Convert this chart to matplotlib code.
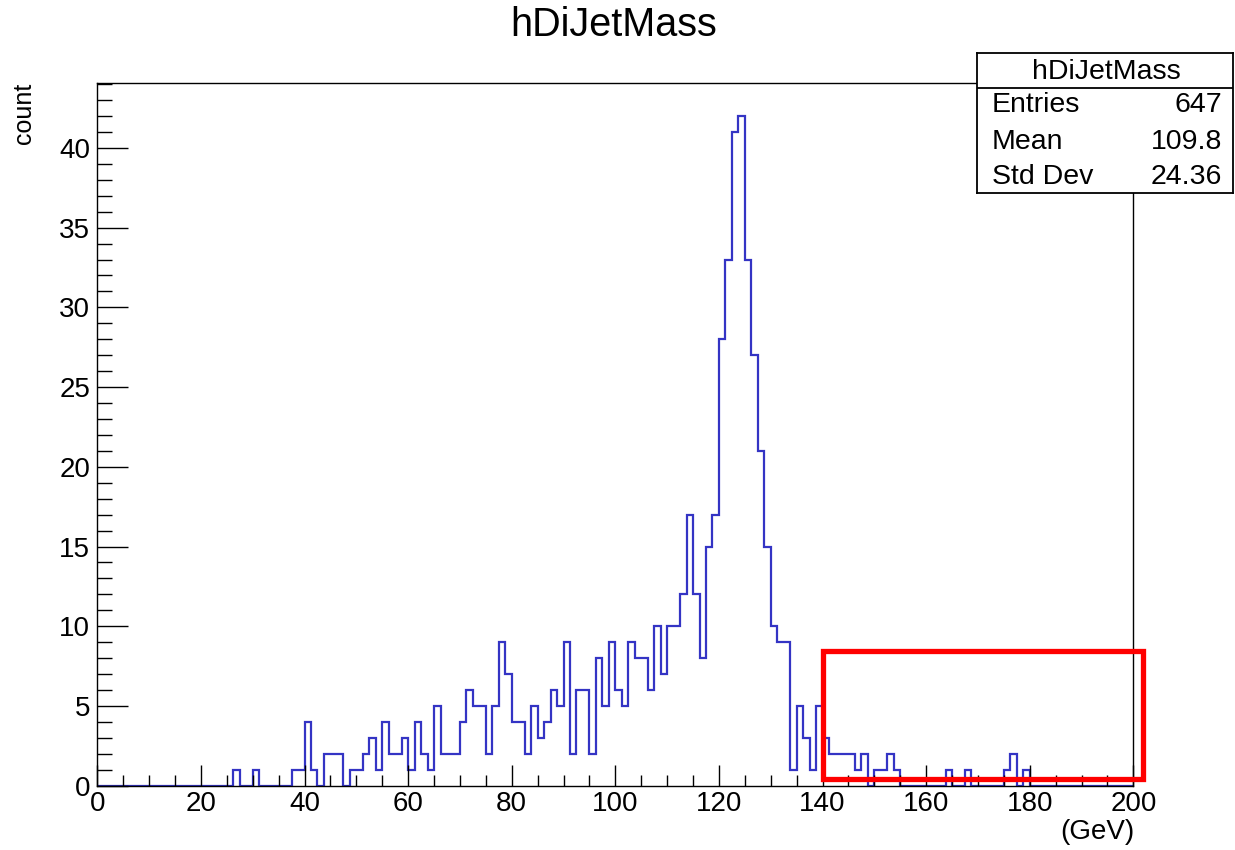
import numpy as np
import matplotlib.pyplot as plt
from matplotlib.patches import Rectangle
from matplotlib.ticker import MultipleLocator

plt.rcParams['font.family'] = ['Liberation Sans', 'DejaVu Sans']

# ---------------------------------------------------------------------------
# histogram data: 160 bins of 1.25 GeV from 0 to 200
# ---------------------------------------------------------------------------
X_MIN, X_MAX, N_BINS = 0.0, 200.0, 160

COUNTS = [
    # 0 - 25 GeV
    0, 0, 0, 0, 0, 0, 0, 0, 0, 0, 0, 0, 0, 0, 0, 0, 0, 0, 0, 0,
    # 25 - 50 GeV
    0, 1, 0, 0, 1, 0, 0, 0, 0, 0, 1, 1, 4, 1, 0, 2, 2, 2, 0, 1,
    # 50 - 75 GeV
    1, 2, 3, 1, 4, 2, 2, 3, 1, 4, 2, 1, 5, 2, 2, 2, 4, 6, 5, 5,
    # 75 - 100 GeV
    2, 5, 9, 7, 4, 4, 2, 5, 3, 4, 6, 5, 9, 2, 6, 6, 2, 8, 5, 9,
    # 100 - 125 GeV
    6, 5, 9, 8, 8, 6, 10, 7, 10, 10, 12, 17, 12, 8, 15, 17, 28, 33, 41, 42,
    # 125 - 150 GeV
    33, 27, 21, 15, 10, 9, 9, 1, 5, 3, 1, 5, 3, 2, 2, 2, 2, 1, 2, 0,
    # 150 - 175 GeV
    1, 1, 2, 1, 0, 0, 0, 0, 0, 0, 0, 1, 0, 0, 1, 0, 0, 0, 0, 0,
    # 175 - 200 GeV
    1, 2, 0, 1, 0, 0, 0, 0, 0, 0, 0, 0, 0, 0, 0, 0, 0, 0, 0, 0,
]

STAT_LABELS = ["Entries", "Mean", "Std Dev"]
STAT_VALUES = ["647", "109.8", "24.36"]

HIST_NAME = "hDiJetMass"
Y_LABEL = "count"
X_LABEL = "(GeV)"

# highlighted region (data coords)
BOX_X0, BOX_X1 = 140.0, 201.9
BOX_Y0, BOX_Y1 = 0.42, 8.45


def main():
    edges = np.linspace(X_MIN, X_MAX, N_BINS + 1)
    counts = np.array(COUNTS, dtype=float)

    fig = plt.figure(figsize=(12.35, 8.5), dpi=100)
    ax = fig.add_axes([0.0788, 0.0756, 0.8389, 0.8264])

    ax.stairs(counts, edges, color="#3434c4", linewidth=1.6, baseline=0)

    ax.set_xlim(X_MIN, X_MAX)
    ax.set_ylim(0, 44.05)

    ax.xaxis.set_major_locator(MultipleLocator(20))
    ax.xaxis.set_minor_locator(MultipleLocator(5))
    ax.yaxis.set_major_locator(MultipleLocator(5))
    ax.yaxis.set_minor_locator(MultipleLocator(1))

    ax.tick_params(axis="both", which="both", direction="in", width=1.0,
                   labelsize=20, top=False, right=False)
    ax.tick_params(axis="x", which="major", length=15, pad=4)
    ax.tick_params(axis="x", which="minor", length=8)
    ax.tick_params(axis="y", which="major", length=22, pad=5)
    ax.tick_params(axis="y", which="minor", length=11)
    for sp in ax.spines.values():
        sp.set_linewidth(1.0)

    # red highlight box
    ax.add_patch(Rectangle((BOX_X0, BOX_Y0), BOX_X1 - BOX_X0, BOX_Y1 - BOX_Y0,
                           fill=False, edgecolor="#ff0000", linewidth=3.8,
                           clip_on=False, zorder=5))

    fig.text(0.497, 0.970, HIST_NAME, fontsize=28.5, ha="center", va="center")
    fig.text(0.0195, 0.903, Y_LABEL, fontsize=18, rotation=90,
             ha="center", va="top")
    fig.text(0.919, 0.021, X_LABEL, fontsize=20, ha="right", va="center")

    # stats box
    st = fig.add_axes([0.7913, 0.7733, 0.2070, 0.1647])
    st.set_xlim(0, 1)
    st.set_ylim(0, 1)
    st.set_xticks([])
    st.set_yticks([])
    st.set_facecolor("white")
    for sp in st.spines.values():
        sp.set_linewidth(1.3)
    st.axhline(0.75, color="black", linewidth=1.3)
    st.text(0.504, 0.864, HIST_NAME, fontsize=20.5, ha="center", va="center")
    for y, lab, val in zip([0.626, 0.364, 0.114], STAT_LABELS, STAT_VALUES):
        st.text(0.056, y, lab, fontsize=20.5, ha="left", va="center")
        st.text(0.957, y, val, fontsize=20.5, ha="right", va="center")

    fig.savefig("out.png", dpi=100)


if __name__ == "__main__":
    main()
